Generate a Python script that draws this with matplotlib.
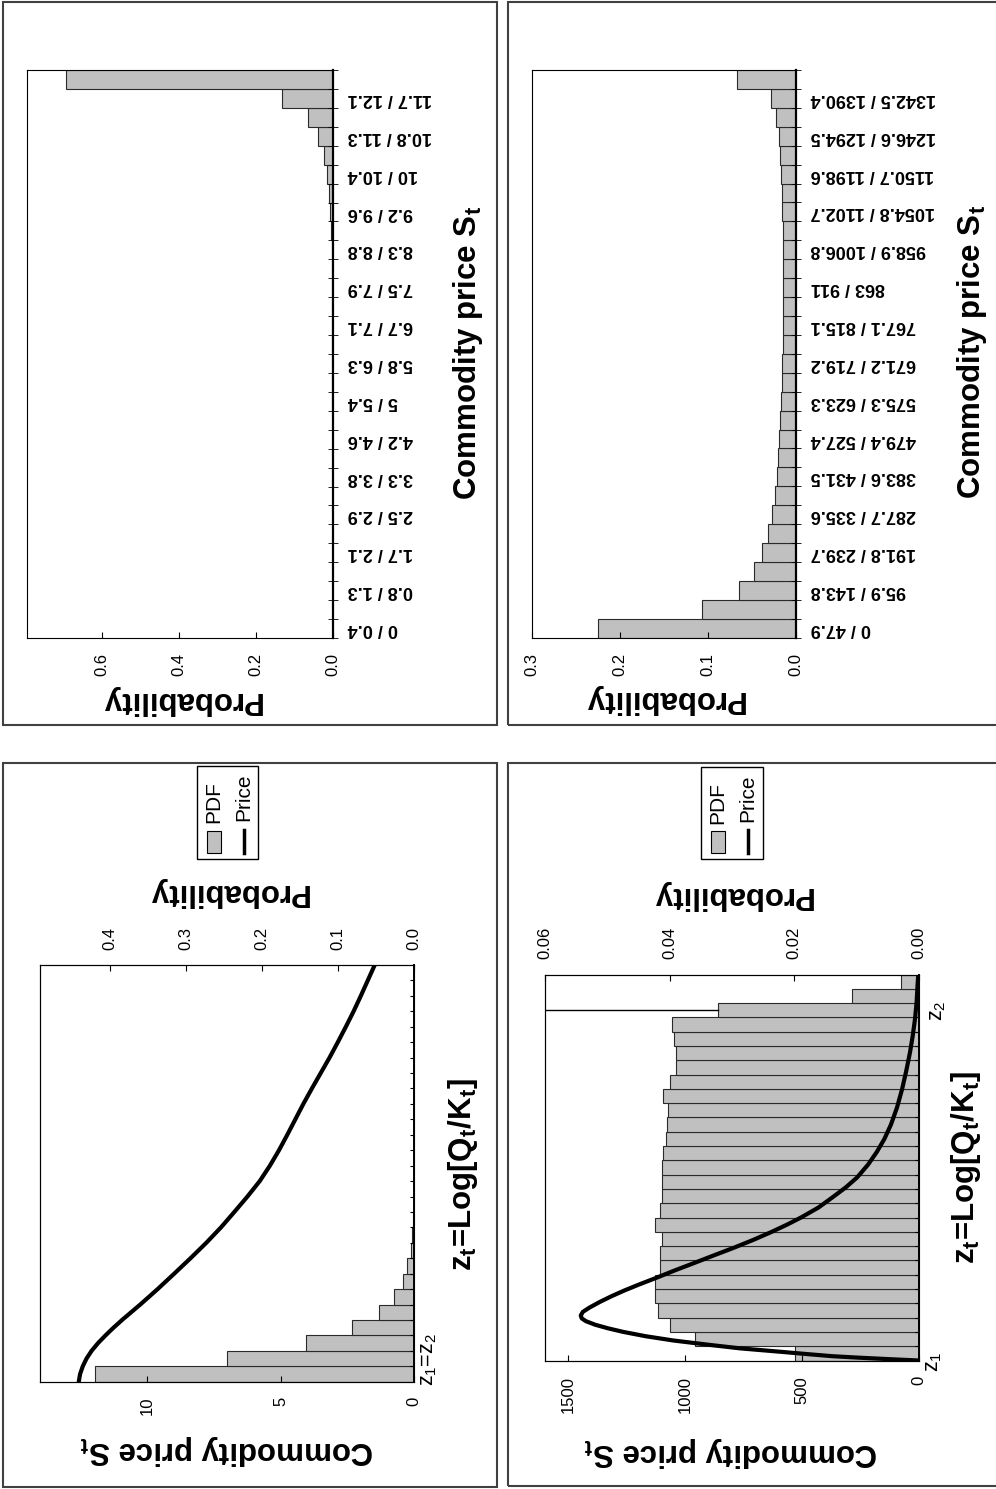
import numpy as np
import matplotlib.pyplot as plt
from matplotlib.patches import Rectangle
from matplotlib.lines import Line2D

plt.rcParams['font.family'] = ['Liberation Sans', 'DejaVu Sans']
plt.rcParams['mathtext.fontset'] = 'custom'
plt.rcParams['mathtext.rm'] = 'Liberation Sans'
plt.rcParams['mathtext.it'] = 'Liberation Sans:italic'
plt.rcParams['mathtext.bf'] = 'Liberation Sans:bold'

# low price case: pdf of z over 27 intervals + price curve S(z)
pdf_low = [0.420, 0.246, 0.142, 0.0815, 0.0464, 0.0267, 0.0153, 0.0092, 0.0047,
           0.0026, 0.0013, 0.0007, 0.0004, 0.0002, 0.0001, 0, 0, 0,
           0, 0, 0, 0, 0, 0, 0, 0, 0]
z_low = [0, 0.5, 1, 1.5, 2, 2.5, 3, 3.5, 4, 5, 6, 7, 8, 9, 10, 11, 12, 13, 14,
         15, 16, 17, 18, 19, 20, 21, 22, 23, 24, 25, 26, 27]
price_low = [12.55, 12.50, 12.40, 12.26, 12.07, 11.83, 11.55, 11.25, 10.93, 10.25,
             9.6, 8.98, 8.37, 7.78, 7.23, 6.73, 6.24, 5.78, 5.40, 5.06, 4.75, 4.45,
             4.15, 3.83, 3.5, 3.17, 2.86, 2.56, 2.27, 2.0, 1.74, 1.48]

# high price case
pdf_high = [0.0199, 0.0359, 0.0399, 0.0419, 0.0423, 0.0423, 0.0415, 0.0415, 0.0413,
            0.0423, 0.0416, 0.0413, 0.0413, 0.0413, 0.0410, 0.0406, 0.0404, 0.0403,
            0.0410, 0.0399, 0.0390, 0.0390, 0.0393, 0.0396, 0.0323, 0.0107, 0.0029]
z_high = [0, 0.1, 0.2, 0.3, 0.45, 0.6, 0.85, 1.1, 1.4, 1.7, 2.0, 2.25, 2.5, 2.75,
          2.95, 3.15, 3.4, 3.7, 4.1, 4.5, 4.9, 5.3, 5.75, 6.3, 6.8, 7.35, 7.9, 8.45,
          9.0, 9.5, 10.0, 10.7, 11.45, 12.1, 12.8, 13.7, 14.6, 15.5, 16.5, 17.7,
          19.0, 20.3, 21.6, 22.7, 23.9, 25.1, 26.3, 27]
price_high = [0, 135, 260, 370, 480, 585, 766, 900, 1051, 1170, 1265, 1330, 1385,
              1425, 1443, 1447, 1438, 1410, 1365, 1315, 1260, 1200, 1129, 1045, 965,
              878, 790, 707, 630, 565, 505, 430, 367, 314, 265, 218, 180, 148, 120,
              94, 72, 54, 38, 27, 17, 10, 6, 3]

# price histograms, 30 classes, only every other class is labelled
hist_low = [0, 0, 0, 0, 0, 0, 0, 0, 0, 0, 0, 0, 0.0001, 0.0001, 0.0002, 0.0003,
            0.0004, 0.0005, 0.001, 0.0015, 0.0025, 0.004, 0.006, 0.0095, 0.015,
            0.022, 0.037, 0.065, 0.131, 0.694]
labels_low = ['0 / 0.4', '0.8 / 1.3', '1.7 / 2.1', '2.5 / 2.9', '3.3 / 3.8',
              '4.2 / 4.6', '5 / 5.4', '5.8 / 6.3', '6.7 / 7.1', '7.5 / 7.9',
              '8.3 / 8.8', '9.2 / 9.6', '10 / 10.4', '10.8 / 11.3', '11.7 / 12.1']
hist_high = [0.225, 0.107, 0.0644, 0.047, 0.0379, 0.0311, 0.0273, 0.0239, 0.0216,
             0.0205, 0.0189, 0.0182, 0.0170, 0.0159, 0.0152, 0.0148, 0.0144, 0.0141,
             0.0141, 0.0141, 0.0144, 0.0148, 0.0152, 0.0156, 0.0164, 0.0175, 0.0193,
             0.0224, 0.0281, 0.0664]
labels_high = ['0 / 47.9', '95.9 / 143.8', '191.8 / 239.7', '287.7 / 335.6',
               '383.6 / 431.5', '479.4 / 527.4', '575.3 / 623.3', '671.2 / 719.2',
               '767.1 / 815.1', '863 / 911', '958.9 / 1006.8', '1054.8 / 1102.7',
               '1150.7 / 1198.6', '1246.6 / 1294.5', '1342.5 / 1390.4']

W, H = 996, 1489
fig = plt.figure(figsize=(W / 100, H / 100), dpi=100)

BAR = '#c0c0c0'
EDGE = '#2a2a2a'
TITLE = dict(fontsize=22.5, fontweight='bold', ha='center', va='center')


def rect(x0, y0, x1, y1):
    # pixel box (top-left origin) -> figure fraction
    return [x0 / W, 1 - y1 / H, (x1 - x0) / W, (y1 - y0) / H]


def text(x, y, s, **kw):
    fig.text(x / W, 1 - y / H, s, **kw)


def frame(x0, y0, x1, y1):
    fig.add_artist(Rectangle((x0 / W, 1 - y1 / H), (x1 - x0) / W, (y1 - y0) / H,
                             transform=fig.transFigure, fill=False, lw=1.5,
                             ec='#404040'))


def legend(x0, y0, x1, y1):
    frame_kw = dict(transform=fig.transFigure)
    fig.add_artist(Rectangle((x0 / W, 1 - y1 / H), (x1 - x0) / W, (y1 - y0) / H,
                             fill=False, lw=1, ec='black', **frame_kw))
    fig.add_artist(Rectangle(((x0 + 10) / W, 1 - (y1 - 6) / H), 14 / W, 22 / H,
                             fc=BAR, ec='black', lw=0.8, **frame_kw))
    fig.add_artist(Line2D([(x0 + 47) / W] * 2, [1 - (y1 - 6) / H, 1 - (y1 - 29) / H],
                          color='black', lw=2.5, **frame_kw))
    text(x0 + 17, y0 + 36, 'PDF', rotation=90, fontsize=15, ha='center', va='center')
    text(x0 + 47, y0 + 31, 'Price', rotation=90, fontsize=15, ha='center', va='center')


def price_panel(box, pdf, z, price, pmax, pticks, plabels, smax, sticks, slabels):
    axp = fig.add_axes(rect(*box))
    axs = axp.twiny()   # price axis on top of the pdf bars

    n = len(pdf)
    axp.barh(np.arange(n) + 0.5, pdf, height=1.0, color=BAR, edgecolor=EDGE, lw=0.8)
    axp.set_xlim(pmax, 0)
    axp.set_ylim(0, n)
    axp.xaxis.set_ticks_position('top')
    axp.set_xticks(pticks)
    axp.set_xticklabels(plabels, rotation=90)
    axp.tick_params(axis='x', direction='in', length=4, pad=11, labelsize=12)
    axp.yaxis.set_ticks_position('right')
    axp.set_yticks(np.arange(1, n))
    axp.set_yticklabels([])
    axp.tick_params(axis='y', direction='in', length=3)
    axp.spines['right'].set_linewidth(1.4)

    axs.plot(price, z, color='black', lw=3, solid_capstyle='round')
    axs.set_xlim(smax, 0)
    axs.xaxis.set_ticks_position('bottom')
    axs.set_xticks(sticks)
    axs.set_xticklabels(slabels, rotation=90)
    axs.tick_params(axis='x', direction='in', length=4, pad=11, labelsize=12)
    return axp, axs


def hist_panel(box, probs, labels, pmax, pticks, plabels):
    ax = fig.add_axes(rect(*box))
    n = len(probs)
    pos = np.arange(n)
    ax.barh(pos, probs, height=1.0, color=BAR, edgecolor=EDGE, lw=0.8)
    ax.set_xlim(pmax, 0)
    ax.set_ylim(-0.5, n - 0.5)
    ax.set_xticks(pticks)
    ax.set_xticklabels(plabels, rotation=90)
    ax.tick_params(axis='x', direction='in', length=4, pad=11, labelsize=12)
    ax.yaxis.set_ticks_position('right')
    ax.set_yticks(pos[::2])
    ax.set_yticklabels(labels, rotation=180, fontweight='bold', fontsize=13)
    for lab in ax.get_yticklabels():
        lab.set_va('center')
    ax.set_yticks(np.arange(n + 1) - 0.5, minor=True)
    ax.tick_params(axis='y', which='major', length=0, pad=11)
    ax.tick_params(axis='y', which='minor', direction='inout', length=7)
    ax.spines['right'].set_linewidth(1.6)
    return ax


# outer frames
frame(3, 2, 497, 725)
frame(508, 2, 1000, 725)
frame(3, 763, 497, 1487)
frame(508, 763, 1000, 1486)

# histogram of price, low case
hist_panel((27, 70, 332.5, 638), hist_low, labels_low, 0.795,
           [0, 0.2, 0.4, 0.6], ['0.0', '0.2', '0.4', '0.6'])
text(180, 700, 'Probability', rotation=180, **TITLE)
text(468, 353, r'Commodity price S$_\mathbf{t}$', rotation=90, **TITLE)

# histogram of price, high case
hist_panel((531.7, 70, 795.7, 637.7), hist_high, labels_high, 0.3,
           [0, 0.1, 0.2, 0.3], ['0.0', '0.1', '0.2', '0.3'])
text(663, 699, 'Probability', rotation=180, **TITLE)
text(972, 352, r'Commodity price S$_\mathbf{t}$', rotation=90, **TITLE)

# price and pdf over z, low case
price_panel((40, 965, 414.3, 1381.7), pdf_low, z_low, price_low,
            0.492, [0, 0.1, 0.2, 0.3, 0.4], ['0.0', '0.1', '0.2', '0.3', '0.4'],
            14, [0, 5, 10], ['0', '5', '10'])
text(227, 892, 'Probability', rotation=180, **TITLE)
text(227, 1450, r'Commodity price S$_\mathbf{t}$', rotation=180, **TITLE)
text(463, 1174, r'z$_\mathbf{t}$=Log[Q$_\mathbf{t}$/K$_\mathbf{t}$]', rotation=90, **TITLE)
text(418, 1386, r'z$_1$=z$_2$', rotation=90, fontsize=15.5, ha='left', va='bottom')
legend(197, 766, 258, 859)

# price and pdf over z, high case
axp, axs = price_panel((545, 974.5, 919, 1360.5), pdf_high, z_high, price_high,
                       0.06, [0, 0.02, 0.04, 0.06], ['0.00', '0.02', '0.04', '0.06'],
                       1600, [0, 500, 1000, 1500], ['0', '500', '1000', '1500'])
axp.plot([pdf_high[24], 0.06], [24.5, 24.5], color='black', lw=1)
text(731, 895, 'Probability', rotation=180, **TITLE)
text(731, 1452, r'Commodity price S$_\mathbf{t}$', rotation=180, **TITLE)
text(966, 1167, r'z$_\mathbf{t}$=Log[Q$_\mathbf{t}$/K$_\mathbf{t}$]', rotation=90, **TITLE)
text(923, 1362, r'z$_1$', rotation=90, fontsize=15.5, ha='left', va='center')
text(927, 1011, r'z$_2$', rotation=90, fontsize=15.5, ha='left', va='center')
legend(701, 767, 763, 859)

fig.savefig('out.png', dpi=100)
